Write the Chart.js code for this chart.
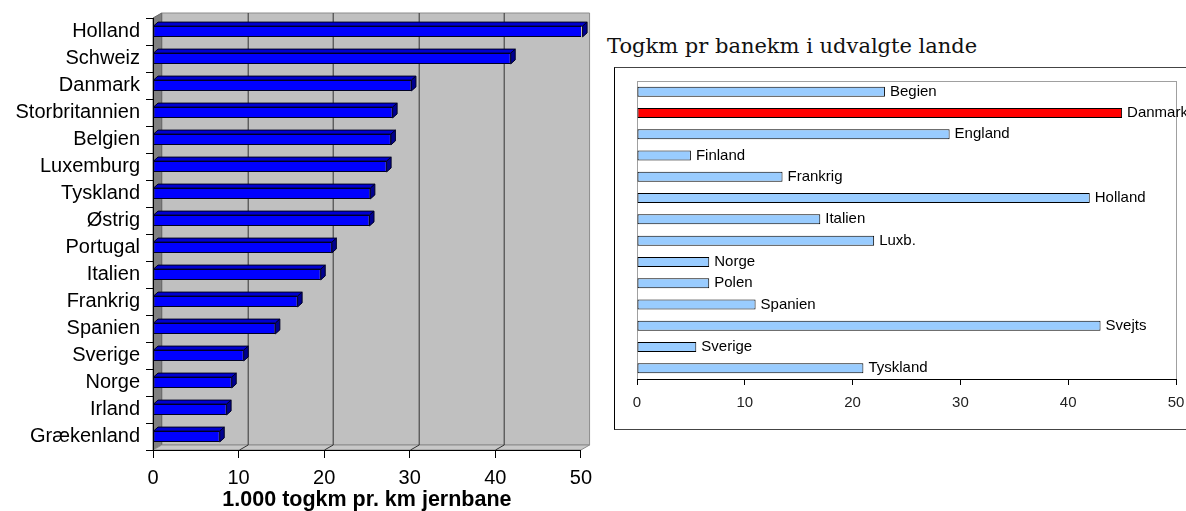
<!DOCTYPE html>
<html>
<head>
<meta charset="utf-8">
<script src="https://cdn.jsdelivr.net/npm/chart.js@4.4.1/dist/chart.umd.min.js"></script>
<style>
    html, body { margin: 0; padding: 0; width: 1186px; height: 511px; overflow: hidden; background: #fff; }
    #leftChart { position: absolute; left: 0; top: 0; }
    #rightTitle { position: absolute; left: 607px; top: 34px; font-family: 'DejaVu Serif', serif; font-size: 21px; color: #111; white-space: nowrap; }
    #rightBox { position: absolute; left: 614px; top: 67px; width: 700px; height: 361px; border: 1px solid #444; border-left-color: #000; }
    #rightChart { position: absolute; left: 615px; top: 68px; }
</style>
</head>
<body>
<canvas id="leftChart" width="600" height="511"></canvas>
<div id="rightTitle">Togkm pr banekm i udvalgte lande</div>
<div id="rightBox"></div>
<canvas id="rightChart" width="600" height="360"></canvas>
<script>
// left chart: 1.000 togkm pr. km jernbane
const leftCountries = ['Holland', 'Schweiz', 'Danmark', 'Storbritannien', 'Belgien', 'Luxemburg', 'Tyskland', 'Østrig',
    'Portugal', 'Italien', 'Frankrig', 'Spanien', 'Sverige', 'Norge', 'Irland', 'Grækenland'];
const leftValues = [50.2, 41.8, 30.2, 28.0, 27.8, 27.3, 25.4, 25.3, 20.9, 19.6, 16.9, 14.3, 10.6, 9.2, 8.6, 7.8];
const leftAxisTitle = '1.000 togkm pr. km jernbane';

// right chart: Togkm pr banekm i udvalgte lande
const rightCountries = ['Begien', 'Danmark', 'England', 'Finland', 'Frankrig', 'Holland', 'Italien', 'Luxb.',
    'Norge', 'Polen', 'Spanien', 'Svejts', 'Sverige', 'Tyskland'];
const rightValues = [23, 45, 29, 5, 13.5, 42, 17, 22, 6.7, 6.7, 11, 43, 5.5, 21];
const highlighted = 'Danmark';

const sans = "'Liberation Sans', Arial, sans-serif";
Chart.defaults.font.family = sans;
Chart.defaults.color = '#000';

const WALL_DX = 8.7, WALL_DY = -5;
const BAR_DX = 4.5, BAR_DY = -4;

const poly = (ctx, pts, fill, stroke) => {
    ctx.beginPath();
    pts.forEach(([px, py], i) => i ? ctx.lineTo(px, py) : ctx.moveTo(px, py));
    ctx.closePath();
    if (fill) { ctx.fillStyle = fill; ctx.fill(); }
    if (stroke) { ctx.strokeStyle = stroke; ctx.stroke(); }
};

// back wall, side wall and floor of the 3d plot
const wallsPlugin = {
    id: 'walls',
    beforeDraw(chart) {
        const { ctx, chartArea: a, scales: { x } } = chart;
        ctx.save();
        ctx.lineWidth = 1;
        poly(ctx, [[a.left + WALL_DX, a.top + WALL_DY], [a.right + WALL_DX, a.top + WALL_DY],
            [a.right + WALL_DX, a.bottom + WALL_DY], [a.left + WALL_DX, a.bottom + WALL_DY]], '#c0c0c0', '#8c8c8c');
        poly(ctx, [[a.left, a.top], [a.left + WALL_DX, a.top + WALL_DY],
            [a.left + WALL_DX, a.bottom + WALL_DY], [a.left, a.bottom]], '#808080', '#666');
        poly(ctx, [[a.left, a.bottom], [a.left + WALL_DX, a.bottom + WALL_DY],
            [a.right + WALL_DX, a.bottom + WALL_DY], [a.right, a.bottom]], '#c8c8c8', '#8c8c8c');

        ctx.strokeStyle = '#333';
        x.ticks.forEach(t => {
            if (t.value <= x.min || t.value >= x.max) return;
            const px = Math.round(x.getPixelForValue(t.value)) + 0.5;
            ctx.beginPath();
            ctx.moveTo(px + WALL_DX, a.top + WALL_DY);
            ctx.lineTo(px + WALL_DX, a.bottom + WALL_DY);
            ctx.lineTo(px, a.bottom);
            ctx.stroke();
        });
        ctx.restore();
    }
};

// top and end faces for every bar
const barDepthPlugin = {
    id: 'barDepth',
    afterDatasetsDraw(chart) {
        const { ctx } = chart;
        ctx.save();
        ctx.lineWidth = 1;
        chart.getDatasetMeta(0).data.forEach(bar => {
            const { x, y, base, height } = bar.getProps(['x', 'y', 'base', 'height'], true);
            const top = y - height / 2, bottom = y + height / 2;
            poly(ctx, [[base, top], [base + BAR_DX, top + BAR_DY], [x + BAR_DX, top + BAR_DY], [x, top]], '#0000d0', '#000022');
            poly(ctx, [[x, top], [x + BAR_DX, top + BAR_DY], [x + BAR_DX, bottom + BAR_DY], [x, bottom]], '#000090', '#000022');
        });
        ctx.restore();
    }
};

new Chart(document.getElementById('leftChart').getContext('2d'), {
    type: 'bar',
    data: {
        labels: leftCountries,
        datasets: [{
            data: leftValues,
            backgroundColor: '#0000ff',
            borderColor: '#000022',
            borderWidth: 1,
            borderSkipped: false,
            categoryPercentage: 1,
            barPercentage: 0.4
        }]
    },
    options: {
        indexAxis: 'y',
        responsive: false,
        animation: false,
        layout: { padding: { top: 16, right: 18 } },
        plugins: { legend: { display: false }, tooltip: { enabled: false } },
        scales: {
            x: {
                min: 0,
                max: 50,
                ticks: { stepSize: 10, font: { size: 20 }, padding: 8, color: '#000' },
                grid: { drawOnChartArea: false, tickLength: 8, color: '#000' },
                border: { color: '#000' },
                title: {
                    display: true,
                    text: leftAxisTitle,
                    font: { size: 21.5, weight: 'bold', lineHeight: 1 },
                    padding: 0,
                    color: '#000'
                },
                afterFit: (scale) => { scale.height = 61; }
            },
            y: {
                ticks: { font: { size: 20 }, padding: 6, color: '#000' },
                grid: { drawOnChartArea: false, tickLength: 7, color: '#000', offset: true },
                border: { color: '#000' },
                afterFit: (scale) => { scale.width = 153; }
            }
        }
    },
    plugins: [wallsPlugin, barDepthPlugin]
});

const plotFrame = {
    id: 'plotFrame',
    beforeDraw(chart) {
        const { ctx, chartArea: a } = chart;
        ctx.save();
        ctx.strokeStyle = '#a0a0a0';
        ctx.lineWidth = 1;
        ctx.strokeRect(Math.round(a.left) + 0.5, Math.round(a.top) + 0.5, Math.round(a.width), Math.round(a.height));
        ctx.restore();
    }
};

const barLabels = {
    id: 'barLabels',
    afterDatasetsDraw(chart) {
        const { ctx } = chart;
        ctx.save();
        ctx.font = '15px ' + sans;
        ctx.fillStyle = '#000';
        ctx.textBaseline = 'middle';
        chart.getDatasetMeta(0).data.forEach((bar, i) => {
            ctx.fillText(chart.data.labels[i], bar.x + 5, bar.y);
        });
        ctx.restore();
    }
};

new Chart(document.getElementById('rightChart').getContext('2d'), {
    type: 'bar',
    data: {
        labels: rightCountries,
        datasets: [{
            data: rightValues,
            backgroundColor: rightCountries.map(c => c === highlighted ? '#ff0000' : '#99ccff'),
            borderColor: '#000',
            borderWidth: 1,
            borderSkipped: false,
            categoryPercentage: 1,
            barPercentage: 0.47
        }]
    },
    options: {
        indexAxis: 'y',
        responsive: false,
        animation: false,
        layout: { padding: { left: 22, top: 13, right: 39 } },
        plugins: { legend: { display: false }, tooltip: { enabled: false } },
        scales: {
            x: {
                min: 0,
                max: 50,
                ticks: { stepSize: 10, font: { size: 15 }, padding: 9, color: '#222' },
                grid: { drawOnChartArea: false, tickLength: 6, color: '#000' },
                border: { color: '#000' },
                afterFit: (scale) => { scale.height = 49; }
            },
            y: { display: false }
        }
    },
    plugins: [plotFrame, barLabels]
});
</script>
</body>
</html>
